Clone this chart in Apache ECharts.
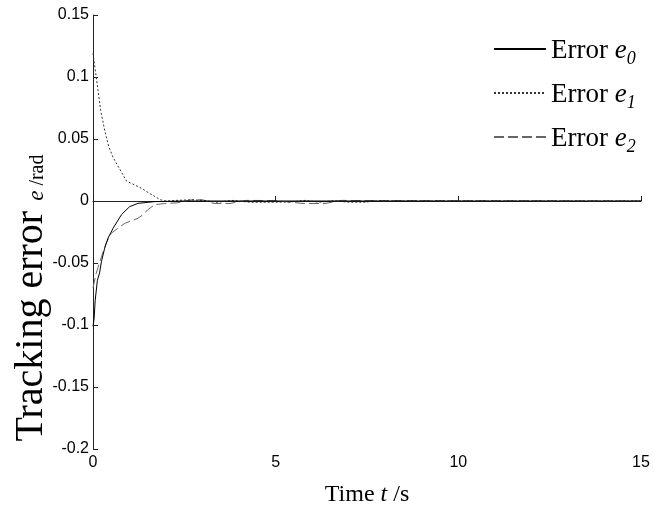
<!DOCTYPE html>
<html>
<head>
<meta charset="utf-8">
<script src="https://cdn.jsdelivr.net/npm/echarts@6/dist/echarts.min.js"></script>
<style>
  html, body { margin: 0; padding: 0; background: #fff; }
  #chart { width: 653px; height: 510px; }
</style>
</head>
<body>
<div id="chart"></div>
<script>
// time axis ticks
const xTicks = [0, 5, 10, 15]

// error e0 (solid)
const t0 = [0, 0.03, 0.06, 0.12, 0.18, 0.23, 0.32, 0.41, 0.55, 0.78, 1.0, 1.23, 1.69, 2.5, 15]
const e0 = [-0.101, -0.095, -0.080, -0.064, -0.058, -0.049, -0.038, -0.030, -0.022, -0.011, -0.0046, -0.0019, -0.0005, 0, 0]

// error e1 (dotted)
const t1 = [0, 0.06, 0.14, 0.21, 0.32, 0.43, 0.55, 0.92, 1.28, 1.56, 1.84, 2.0, 2.3, 2.7, 3.0, 3.4, 3.8, 4.3, 4.8, 5.4, 5.8, 6.2, 6.6, 7.0, 7.5, 7.6, 15]
const e1 = [0.119, 0.106, 0.089, 0.073, 0.057, 0.044, 0.035, 0.016, 0.011, 0.006, 0.001, 0, 0.0005, 0.001, 0.0005, -0.001, 0.0005, -0.001, -0.001, -0.0008, 0.0005, -0.001, 0.0003, -0.001, -0.001, 0, 0]

// error e2 (dashed)
const t2 = [0, 0.03, 0.09, 0.23, 0.36, 0.5, 0.68, 0.87, 1.23, 1.37, 1.5, 1.69, 1.96, 2.3, 2.7, 3.0, 3.3, 3.75, 4.2, 5.0, 5.75, 6.35, 6.8, 7.5, 15]
const e2 = [-0.07, -0.069, -0.058, -0.045, -0.034, -0.026, -0.022, -0.018, -0.014, -0.011, -0.007, -0.003, -0.002, -0.0015, 0.001, 0.001, -0.002, -0.002, 0.0005, 0.0003, -0.002, -0.002, 0.0005, 0.0003, 0]

const names = ['e0', 'e1', 'e2']

const pairs = (t, e) => t.map((v, i) => [v, e[i]])

const chart = echarts.init(document.getElementById('chart'))

const serif = 'Liberation Serif'
const legendRich = {
  a: { fontFamily: serif, fontSize: 27, color: '#000', lineHeight: 30, verticalAlign: 'bottom' },
  e: { fontFamily: serif, fontSize: 27, fontStyle: 'italic', color: '#000', lineHeight: 30, verticalAlign: 'bottom' },
  s: { fontFamily: serif, fontSize: 18, fontStyle: 'italic', color: '#000', lineHeight: 30, verticalAlign: 'bottom', padding: [0, 0, -4, 0] }
}

chart.setOption({
  animation: false,
  grid: {
    left: 93,
    right: 12,
    top: 15,
    bottom: 61,
    containLabel: false,
    outerBoundsMode: 'none'
  },
  legend: {
    orient: 'vertical',
    left: 488,
    top: 32,
    itemWidth: 52,
    itemHeight: 14,
    itemGap: 13,
    data: names,
    itemStyle: { opacity: 0 },
    formatter: name => '{a|Error }{e|e}{s|' + name.slice(1) + '}',
    textStyle: { rich: legendRich }
  },
  xAxis: {
    type: 'value',
    min: xTicks[0],
    max: xTicks[xTicks.length - 1],
    interval: 5,
    name: '{a|Time }{t|t}{a| /s}',
    nameLocation: 'middle',
    nameGap: 34,
    nameTextStyle: {
      rich: {
        a: { fontFamily: serif, fontSize: 24, color: '#000' },
        t: { fontFamily: serif, fontSize: 24, fontStyle: 'italic', color: '#000' }
      }
    },
    splitLine: { show: false },
    axisLine: { lineStyle: { color: '#222', width: 1 } },
    axisTick: { inside: true, length: 5, lineStyle: { color: '#222' } },
    axisLabel: { fontFamily: 'Liberation Sans', fontSize: 16, color: '#000', margin: 6 }
  },
  yAxis: {
    type: 'value',
    min: -0.2,
    max: 0.15,
    interval: 0.05,
    name: '{a|Tracking error }{e|e}{b| /rad}',
    nameLocation: 'middle',
    nameRotate: 90,
    nameGap: 42,
    nameMoveOverlap: false,
    nameTextStyle: {
      padding: [0, 132, 0, 0],
      rich: {
        a: { fontFamily: serif, fontSize: 40, color: '#000', lineHeight: 44, verticalAlign: 'bottom' },
        e: { fontFamily: serif, fontSize: 23, fontStyle: 'italic', color: '#000', lineHeight: 44, verticalAlign: 'bottom', padding: [0, 0, 3, 0] },
        b: { fontFamily: serif, fontSize: 20, color: '#000', lineHeight: 44, verticalAlign: 'bottom', padding: [0, 0, 3, 0] }
      }
    },
    splitLine: { show: false },
    axisLine: { show: true, onZero: false, lineStyle: { color: '#222', width: 1 } },
    axisTick: { show: true, inside: true, length: 5, lineStyle: { color: '#222' } },
    axisLabel: { fontFamily: 'Liberation Sans', fontSize: 16, color: '#000', margin: 4 }
  },
  series: [
    {
      name: 'e0',
      type: 'line',
      symbol: 'none',
      data: pairs(t0, e0),
      lineStyle: { color: '#000', width: 1, type: 'solid' },
      itemStyle: { color: '#000' },
      z: 4
    },
    {
      name: 'e1',
      type: 'line',
      symbol: 'none',
      data: pairs(t1, e1),
      lineStyle: { color: '#333', width: 1, type: [2, 2] },
      itemStyle: { color: '#333' },
      z: 3
    },
    {
      name: 'e2',
      type: 'line',
      symbol: 'none',
      data: pairs(t2, e2),
      lineStyle: { color: '#666', width: 1, type: [10, 4] },
      itemStyle: { color: '#666' },
      z: 2
    }
  ]
})
</script>
</body>
</html>
